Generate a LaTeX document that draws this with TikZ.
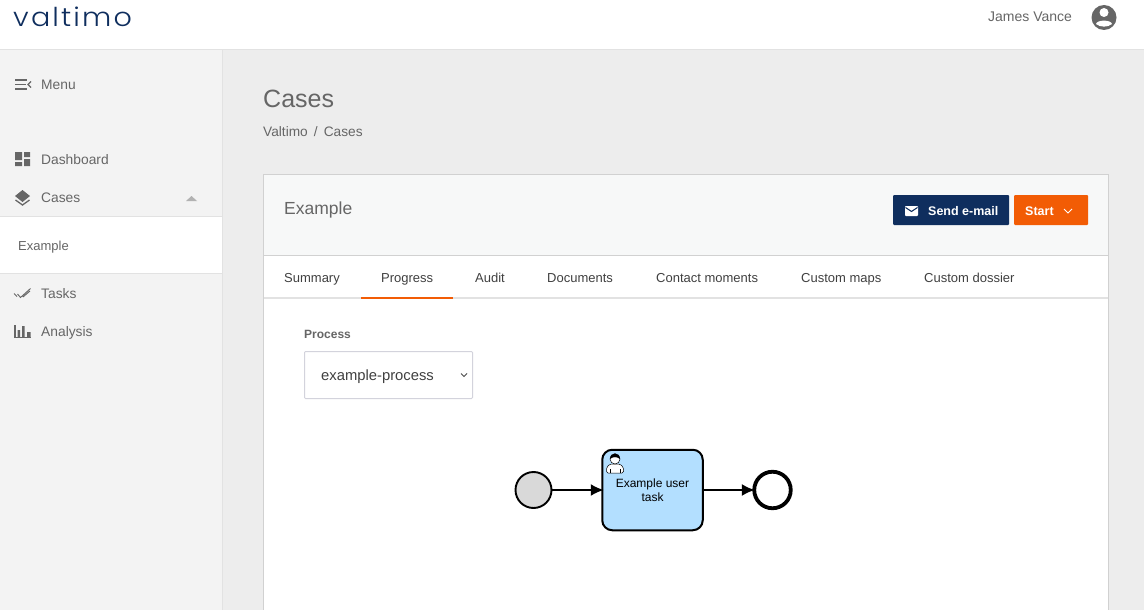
\documentclass[tikz,border=0pt]{standalone}
\usepackage{fontspec}
\setmainfont{Liberation Sans}
\newfontfamily\logofont[LetterSpace=7.5]{Poppins Light}
\usepackage{tikz}
\usetikzlibrary{positioning, calc, arrows.meta}

\definecolor{pagebg}{HTML}{EDEDED}
\definecolor{sidebg}{HTML}{F3F3F3}
\definecolor{rulegr}{HTML}{E2E2E2}
\definecolor{textgr}{HTML}{666666}
\definecolor{headbg}{HTML}{F7F8F8}
\definecolor{navy}{HTML}{0F2E5E}
\definecolor{flame}{HTML}{F25C05}
\definecolor{taskbl}{HTML}{B3DFFF}
\definecolor{selgr}{HTML}{D3D3DC}

\begin{document}
\begin{tikzpicture}[
	x=1pt,y=-1pt,
	txt/.style={inner sep=0pt,anchor=base west,text=textgr,font=\fontsize{13.8}{16}\selectfont},
	tabtxt/.style={txt,text=black!75,font=\fontsize{13}{15}\selectfont},
	btn/.style={inner sep=0pt,anchor=base west,text=white,font=\bfseries\fontsize{12.5}{14}\selectfont},
	icon/.style={fill=textgr,draw=none},
	ev/.style={circle,draw,inner sep=0pt},
	flow/.style={line width=1.9pt,shorten >=-2.5pt,-{Latex[length=13pt,width=12pt]}}
	]
	\useasboundingbox (0,0) rectangle (1144,610);
	% page
	\fill[pagebg] (0,0) rectangle (1144,610);
	\fill[sidebg] (0,49) rectangle (222,610);
	\draw[rulegr] (222.5,49) -- (222.5,610);
	\fill[white] (0,0) rectangle (1144,49);
	\draw[rulegr] (0,49.5) -- (1144,49.5);
	\fill[white] (0,216) rectangle (222,273);
	\draw[rulegr] (0,216.5) -- (222,216.5);
	\draw[rulegr] (0,273.5) -- (222,273.5);

	% top bar
	\node[inner sep=0pt,anchor=base west,text=navy,xscale=1.1,font=\logofont\fontsize{26}{28}\selectfont] (logo) at (13,27) {valtimo};
	\node[txt,font=\fontsize{14}{16}\selectfont] (user) at (988,22) {James Vance};
	\fill[icon] (1104,17.5) circle (12.5);
	\fill[white] (1104,12.5) circle (4.5);
	\fill[white] (1096,24) .. controls (1097,19.5) and (1111,19.5) .. (1112,24) .. controls (1108,27.5) and (1100,27.5) .. (1096,24);

	% side menu
	\node[txt] (menu) at (41,89) {Menu};
	\draw[textgr,line width=1.3pt] (15,80) -- (27,80) (15,84.5) -- (26,84.5) (15,89) -- (27,89);
	\draw[textgr,line width=1.2pt] (31,81.5) -- (28,84.5) -- (31,87.5);
	\node[txt] (dash) at (41,164) {Dashboard};
	\fill[icon] (15,152) rectangle (22,160) (15,162) rectangle (22,166) (24,152) rectangle (30,157) (24,159) rectangle (30,166);
	\node[txt] (cases) at (41,202) {Cases};
	\fill[icon] (22.5,190) -- (30,196) -- (22.5,202) -- (15,196) -- cycle;
	\draw[textgr,line width=1.3pt] (15.5,200) -- (22.5,205) -- (29.5,200);
	\fill[black!30] (186,201) -- (191.5,196) -- (197,201) -- cycle;
	\node[txt,font=\fontsize{13}{15}\selectfont] (sub) at (18,250) {Example};
	\node[txt] (tasks) at (41,298) {Tasks};
	\draw[textgr,line width=0.9pt] (14,293.5) -- (17,296.5) (17.5,294) -- (20.5,297.5) -- (30.5,288.5) (23,297) -- (30,291);
	\node[txt] (analysis) at (41,336) {Analysis};
	\draw[textgr,line width=1.1pt] (15,325) -- (15,337.5) -- (31,337.5);
	\fill[icon] (17.5,330) rectangle (20,337) (22,326) rectangle (24.5,337) (27,332) rectangle (30.5,337);

	% heading
	\node[txt,font=\fontsize{25}{30}\selectfont] (title) at (263,107) {Cases};
	\node[txt,font=\fontsize{13.7}{16}\selectfont] (crumb) at (263,136) {Valtimo\,  /\,  Cases};

	% panel
	\fill[white] (263.5,174.5) rectangle (1108.5,610);
	\fill[headbg] (263.5,174.5) rectangle (1108.5,255);
	\draw[black!18] (263.5,610) -- (263.5,174.5) -- (1108.5,174.5) -- (1108.5,610);
	\draw[black!18] (263.5,255.5) -- (1108.5,255.5);
	\draw[rulegr,line width=2pt] (264,298) -- (1108,298);
	\draw[flame,line width=1.5pt] (361,298) -- (453,298);
	\node[txt,font=\fontsize{17.5}{20}\selectfont] (head) at (284,214) {Example};
	\node[inner sep=0pt,fill=navy,rounded corners=1pt,minimum width=116pt,minimum height=30pt] (send) at (951,210) {};
	\node[inner sep=0pt,fill=flame,rounded corners=1pt,minimum width=74pt,minimum height=30pt] (start) at (1051,210) {};
	\node[btn] (sendtxt) at (928,215) {Send e-mail};
	\node[btn] (starttxt) at (1025,215) {Start};
	\fill[white,rounded corners=0.8pt] (905,206) rectangle (918,216);
	\draw[navy,line width=1pt] (905.5,207.5) -- (911.5,211.5) -- (917.5,207.5);
	\draw[white,line width=1pt] (1064,209) -- (1068,213) -- (1072,209);

	% tabs
	\foreach \tabx/\tabn/\tabt in {284/summary/Summary,381/progress/Progress,475/audit/Audit,547/documents/Documents,656/contact/Contact moments,801/maps/Custom maps,924/dossier/Custom dossier}
		\node[tabtxt] (\tabn) at (\tabx,282) {\tabt};

	% process select
	\node[txt,font=\bfseries\fontsize{12}{14}\selectfont] (plabel) at (304,338) {Process};
	\node[draw=selgr,line width=1pt,rounded corners=1pt,inner sep=0pt,minimum width=168pt,minimum height=47pt,fill=white] (select) at (388.5,375) {};
	\node[txt,text=black!75,font=\fontsize{14.8}{16}\selectfont] (ptext) at (321,380) {example-process};
	\draw[black!70,line width=0.8pt] (461,373.5) -- (464,376.5) -- (467,373.5);

	% process diagram
	\node[ev,fill=black!15,line width=1.9pt,minimum size=36pt] (begin) at (533.5,490) {};
	\node[draw,line width=2pt,fill=taskbl,rounded corners=10pt,minimum width=100.5pt,minimum height=80.5pt,inner sep=0pt,align=center,font=\fontsize{12}{14}\selectfont] (task) at (652.5,490) {Example user\\task};
	\node[ev,fill=white,line width=3.8pt,minimum size=36.5pt] (finish) at (772.5,490) {};
	\draw[flow] (begin) -- (task);
	\draw[flow] (task) -- (finish);

	% user icon of the task
	\draw[black,fill=white,line width=0.5pt,rounded corners=1.5pt] (606.5,473) -- (606.5,467.5) -- (610,464) -- (620,464) -- (623.5,467.5) -- (623.5,473) -- cycle;
	\draw[black,line width=0.4pt] (610,473) -- (610,469) (620,473) -- (620,469);
	\draw[black,fill=white,line width=0.5pt] (615,459) circle (5);
	\fill[black] (610,459) .. controls (610,451.5) and (620,451.5) .. (620,459) .. controls (617,456.5) and (613,456.5) .. (610,459);
\end{tikzpicture}
\end{document}
